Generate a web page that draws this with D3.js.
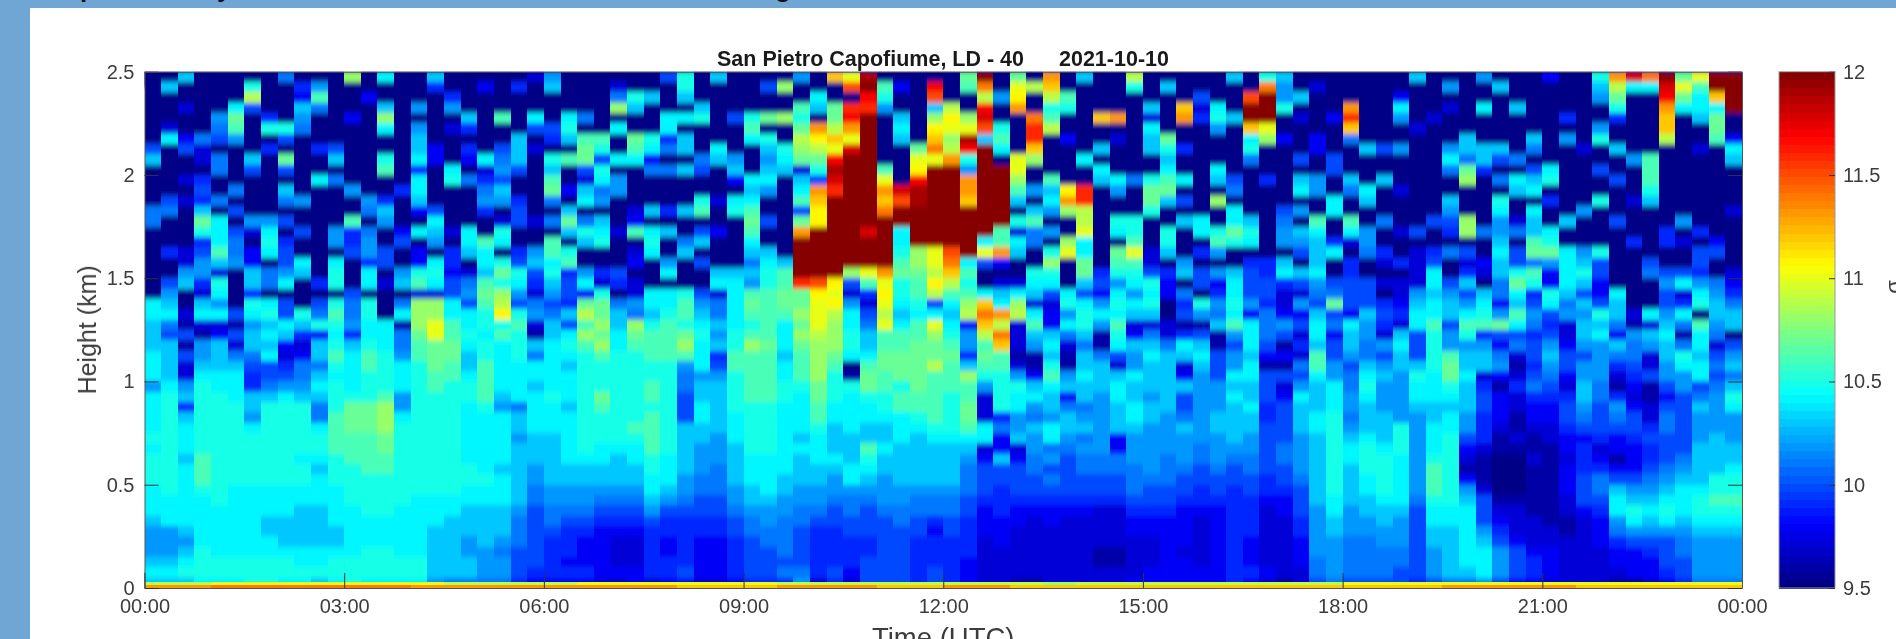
<!DOCTYPE html>
<html>
<head>
<meta charset="utf-8">
<script src="https://d3js.org/d3.v7.min.js"></script>
<style>
  html, body { margin: 0; padding: 0; background: #fff; overflow: hidden; }
  svg { display: block; }
  text { font-family: "Liberation Sans", Arial, sans-serif; }
</style>
</head>
<body>
<div id="chart"></div>
<script>
// Time of each column, hours UTC, 15 minute steps
const hours = [0,0.25,0.5,0.75,1,1.25,1.5,1.75,2,2.25,2.5,2.75,3,3.25,3.5,3.75,4,4.25,4.5,4.75,5,5.25,5.5,5.75,6,6.25,6.5,6.75,7,7.25,7.5,7.75,8,8.25,8.5,8.75,9,9.25,9.5,9.75,10,10.25,10.5,10.75,11,11.25,11.5,11.75,12,12.25,12.5,12.75,13,13.25,13.5,13.75,14,14.25,14.5,14.75,15,15.25,15.5,15.75,16,16.25,16.5,16.75,17,17.25,17.5,17.75,18,18.25,18.5,18.75,19,19.25,19.5,19.75,20,20.25,20.5,20.75,21,21.25,21.5,21.75,22,22.25,22.5,22.75,23,23.25,23.5,23.75];

const xTickHours = [0,3,6,9,12,15,18,21,24];
const xTickLabels = ["00:00","03:00","06:00","09:00","12:00","15:00","18:00","21:00","00:00"];
const yTicks = [0,0.5,1,1.5,2,2.5];
const colorTicks = [9.5,10,10.5,11,11.5,12];

// Values are signal x 10. One line per time column, from 2.5 km down to 1.3 km (0.05 km bins)
const upperProfiles = [
[95,95,95,95,95,95,95,100,103,95,95,95,95,101,101,95,95,95,95,95,95,95,104,104],
[95,103,95,95,95,97,104,95,95,95,95,95,100,101,95,95,95,99,95,95,100,102,103,104],
[103,95,95,97,95,95,98,100,95,95,97,95,97,95,95,95,95,97,97,102,103,95,95,97],
[95,95,95,95,95,95,101,97,97,95,99,100,99,103,107,105,99,100,102,102,99,97,103,104],
[95,95,95,95,102,101,100,95,101,101,95,95,101,95,104,104,104,106,103,97,105,104,102,104],
[95,95,95,104,107,106,102,95,95,95,95,101,95,100,95,100,101,101,102,95,95,95,95,100],
[95,105,109,100,95,95,95,95,103,100,95,95,95,95,102,97,95,98,98,103,103,99,105,104],
[95,95,95,95,99,105,95,99,95,95,95,95,95,95,102,104,105,104,95,101,101,95,104,105],
[101,95,95,95,95,105,100,95,107,100,95,103,101,95,100,95,99,100,100,102,104,95,100,100],
[95,99,98,103,102,101,95,95,95,95,95,95,102,95,95,100,95,95,104,103,95,95,95,105],
[95,102,106,101,95,95,95,99,95,95,104,95,95,95,95,95,95,95,95,95,99,95,100,101],
[95,95,95,95,95,95,95,100,103,95,101,95,95,95,95,102,102,95,104,105,105,95,105,106],
[108,95,95,95,98,95,95,95,95,95,95,102,95,95,106,99,99,100,95,95,95,100,101,101],
[95,95,98,95,95,95,95,95,95,95,95,95,102,101,95,101,102,102,99,104,104,95,105,105],
[104,95,95,103,108,104,95,95,105,106,95,95,99,103,102,95,95,100,100,95,97,95,95,95],
[95,95,95,95,95,95,95,95,95,95,95,99,95,95,95,98,100,95,95,102,103,95,101,104],
[95,95,95,102,95,102,103,103,104,99,104,104,103,98,95,104,95,98,98,105,106,97,108,108],
[103,99,95,95,95,95,95,98,98,95,95,95,95,100,104,103,102,95,104,105,104,97,108,108],
[95,95,99,102,95,97,95,95,95,104,105,95,95,95,95,97,95,99,99,98,100,100,104,104],
[95,95,95,95,103,99,95,99,98,95,101,95,95,95,95,104,104,103,95,97,101,102,100,104],
[95,98,95,95,95,95,95,95,104,97,99,101,102,99,95,95,106,104,104,103,106,107,106,105],
[95,95,95,95,106,95,95,100,101,102,100,103,102,95,97,105,104,95,105,107,105,108,109,111],
[95,99,95,95,95,95,103,103,103,100,95,95,99,100,100,95,95,99,100,105,104,102,100,105],
[97,95,95,95,104,100,95,97,95,95,95,95,95,95,97,95,95,102,103,100,99,97,101,102],
[102,103,95,95,95,100,99,95,105,103,106,107,101,95,101,95,106,106,104,105,103,102,100,101],
[95,95,95,95,104,105,103,95,106,95,95,98,95,103,107,103,95,105,106,99,100,100,99,103],
[95,95,95,95,101,95,106,107,107,100,97,103,104,95,101,105,103,95,95,102,104,98,107,109],
[95,95,95,95,95,95,106,105,100,105,104,101,102,95,103,104,105,95,95,99,97,105,107,107],
[95,97,101,108,95,104,95,95,104,95,102,102,95,95,95,97,95,95,95,100,99,95,101,103],
[95,95,105,103,95,95,107,106,104,95,95,95,95,97,98,106,95,97,98,95,97,97,102,101],
[95,95,103,95,95,95,105,104,98,101,95,95,95,103,95,104,105,104,95,95,95,104,104,103],
[100,95,95,95,104,104,99,101,95,101,95,95,95,99,95,103,95,95,102,104,95,104,104,105],
[105,105,103,95,104,95,103,103,95,103,95,95,95,103,95,95,101,103,95,95,95,105,106,106],
[95,95,95,103,105,95,95,95,101,100,95,95,105,106,95,100,103,95,100,95,95,100,102,103],
[103,95,95,95,95,95,95,104,103,95,95,95,97,95,95,98,95,95,95,103,104,97,101,101],
[95,95,95,95,100,95,95,95,102,103,98,95,104,105,95,95,95,95,95,103,104,104,104,104],
[95,95,95,95,105,106,104,95,95,95,104,103,104,106,107,106,104,103,101,103,102,106,107,106],
[95,100,95,95,107,95,105,103,102,103,104,102,95,95,100,95,95,103,104,105,105,106,106,106],
[95,108,95,95,108,95,95,105,104,103,95,95,95,95,95,95,95,95,103,106,106,107,107,106],
[102,95,95,106,105,107,109,108,107,97,103,104,106,100,107,113,120,120,120,120,116,107,107,108],
[95,95,104,103,95,113,111,109,107,105,100,113,112,111,111,120,120,120,120,120,115,111,110,110],
[112,95,95,107,107,109,112,110,117,119,118,116,120,120,120,120,120,120,120,120,111,110,111,109],
[110,115,95,116,117,113,110,118,120,120,120,120,120,120,120,120,120,120,120,108,100,97,102,104],
[119,120,117,116,120,120,120,120,120,120,120,120,120,120,120,118,120,120,120,110,106,99,97,100],
[95,106,105,102,95,95,95,95,95,106,110,113,112,114,120,120,120,120,120,113,110,111,110,109],
[95,98,95,95,103,104,103,95,95,95,95,118,115,120,120,104,104,105,106,107,105,105,104,103],
[95,95,95,95,95,95,95,107,110,111,117,119,119,120,120,120,120,108,108,107,106,106,105,104],
[95,117,115,103,108,111,112,114,110,120,120,120,120,120,120,120,120,110,110,109,111,109,100,104],
[95,95,95,109,111,110,108,109,113,120,120,120,120,120,120,120,120,115,114,112,109,106,104,103],
[107,106,95,95,108,110,119,117,105,102,113,113,112,120,120,120,120,120,104,106,105,106,108,109],
[120,114,109,117,118,115,103,120,120,120,120,120,120,120,120,120,104,110,100,95,95,104,112,114],
[95,95,102,95,95,105,106,104,95,120,120,120,120,120,120,106,106,113,98,95,97,103,104,113],
[107,110,111,113,95,95,95,95,110,110,108,106,103,95,105,97,104,103,95,95,97,104,108,109],
[95,109,95,95,114,116,116,112,108,95,95,102,95,103,106,101,101,95,95,105,104,103,97,104],
[113,112,109,105,106,109,95,95,95,95,106,103,104,102,95,102,95,105,108,105,104,100,97,98],
[95,95,106,105,95,95,98,95,95,95,95,111,113,108,95,95,108,110,95,95,95,104,105,102],
[103,95,95,95,95,95,95,95,104,95,95,116,116,109,109,110,104,104,107,107,103,100,104,105],
[95,95,95,95,112,95,95,103,95,104,103,95,95,95,95,95,95,95,95,99,100,98,102,104],
[95,95,95,95,113,95,97,95,95,95,104,102,95,95,105,104,95,107,106,105,102,104,105,104],
[109,105,95,95,95,95,95,95,95,95,101,95,95,95,105,105,106,110,106,105,104,102,104,103],
[95,95,95,103,97,104,103,103,95,95,105,107,107,105,95,95,95,97,97,100,105,104,105,103],
[95,103,95,95,95,95,107,105,103,104,106,107,103,95,95,105,105,103,95,99,98,98,95,95],
[95,95,95,112,113,95,95,99,95,95,104,95,100,95,103,95,95,95,102,103,95,101,99,100],
[95,95,100,97,99,95,95,95,95,95,95,95,95,95,104,104,95,99,95,100,100,95,105,102],
[95,95,95,104,105,102,95,95,95,104,103,95,108,95,95,105,106,102,95,102,98,99,102,101],
[103,95,95,95,103,95,95,95,95,95,100,101,95,104,104,107,105,95,95,103,104,104,105,104],
[95,95,115,120,120,112,104,105,101,95,95,95,95,95,103,105,104,95,99,100,100,100,102,98],
[105,114,120,120,120,110,108,95,95,95,99,95,95,95,95,95,95,95,99,99,100,100,99,101],
[103,102,102,105,95,95,98,95,95,95,95,95,95,100,101,102,102,95,103,104,99,97,97,98],
[95,95,103,95,97,95,95,95,100,95,103,104,95,102,95,103,102,100,95,103,100,97,102,98],
[95,97,95,95,95,95,98,98,95,95,102,102,95,95,106,104,103,103,103,104,102,101,100,103],
[95,95,95,95,98,95,95,95,100,100,95,95,104,104,95,95,99,104,95,95,100,101,107,100],
[95,95,95,113,116,112,101,95,95,95,103,101,95,95,106,104,97,95,99,99,100,100,100,98],
[95,95,95,95,95,95,95,103,95,95,95,104,103,95,95,102,102,101,95,95,100,100,100,103],
[95,95,95,95,95,95,95,100,95,95,103,95,95,95,101,95,95,99,97,95,97,95,99,100],
[95,95,98,104,102,95,95,102,95,95,95,97,95,95,95,97,95,95,99,95,97,97,98,99],
[103,95,95,95,95,97,95,95,95,95,95,95,95,95,95,100,95,97,97,97,97,102,103,104],
[95,95,95,95,97,95,95,95,95,95,95,95,95,95,100,95,95,99,100,104,104,103,104,104],
[95,102,95,97,95,95,95,102,104,101,95,95,103,102,100,99,95,101,95,95,100,102,103,103],
[95,95,95,95,95,95,103,103,101,107,108,95,95,95,108,108,95,100,97,99,103,100,102,104],
[102,95,95,104,95,95,95,103,103,99,95,95,95,95,95,101,95,95,98,97,95,103,104,105],
[95,103,95,95,95,95,95,103,100,95,101,95,105,104,102,102,103,104,103,103,101,101,98,102],
[95,95,95,103,95,95,95,95,101,95,104,103,95,95,97,101,95,100,100,105,107,104,103,106],
[95,95,95,95,95,95,103,101,95,100,103,104,95,104,103,103,106,107,101,106,105,99,100,102],
[98,95,95,95,95,95,95,95,95,104,105,95,99,95,95,104,105,107,102,98,98,105,104,100],
[95,95,95,95,99,95,102,95,95,95,95,95,95,95,103,95,95,104,104,104,104,103,101,102],
[95,95,95,95,95,95,95,97,95,95,95,95,95,102,95,95,95,102,103,105,103,100,103,102],
[105,103,102,95,95,102,105,95,95,100,95,95,105,95,95,95,95,105,100,100,98,98,100,105],
[113,109,107,105,99,95,95,103,95,95,100,95,95,95,100,95,95,95,95,95,95,104,103,103],
[118,104,95,95,95,95,95,95,102,95,95,95,97,95,95,95,99,95,95,95,95,95,95,97],
[114,104,95,95,95,95,95,95,106,106,106,105,103,95,95,95,95,95,100,101,95,95,95,104],
[120,118,117,113,112,112,109,95,95,95,95,95,95,95,95,99,99,95,95,100,102,100,100,102],
[107,110,107,104,95,95,95,95,95,95,95,95,95,95,102,95,97,95,95,100,104,97,99,104],
[110,106,104,104,103,95,95,97,95,95,95,95,95,95,95,99,95,100,100,99,102,104,105,95],
[120,120,112,104,107,107,106,95,95,95,95,95,95,95,95,95,98,100,95,95,101,102,103,103],
[120,120,120,120,95,95,98,104,103,95,95,95,95,97,95,95,95,95,95,97,98,99,101,103]
];

// Same columns, from 1.3 km down to the surface
const lowerProfiles = [
[103,103,103,104,104,104,102,104,104,104,104,105,104,105,105,105,104,104,104,103,102,102,102,103,104,103],
[101,100,103,103,103,103,104,105,105,105,105,105,105,105,105,105,105,104,104,104,102,102,102,103,104,103],
[96,100,96,100,97,97,102,103,99,103,104,104,104,103,104,104,104,104,104,104,103,102,103,104,105,103],
[97,96,102,102,103,104,105,105,105,105,105,105,105,106,106,106,105,104,104,104,104,104,105,105,105,104],
[97,98,103,103,103,104,104,105,105,105,105,105,105,105,105,105,105,105,104,104,104,104,104,105,105,104],
[96,100,97,101,103,104,104,104,105,105,105,105,105,105,105,105,104,104,104,104,104,104,104,105,105,104],
[102,103,103,101,100,99,99,103,103,102,104,105,105,105,105,105,104,104,104,104,104,104,104,105,105,105],
[103,104,103,104,100,100,101,103,105,105,105,105,105,105,105,105,104,104,104,103,103,104,104,105,105,105],
[104,103,98,97,99,100,102,104,105,105,105,105,105,105,105,105,104,104,104,103,103,103,104,105,105,104],
[103,99,97,98,101,101,102,103,105,105,105,105,105,104,105,105,104,104,103,103,103,103,104,104,105,104],
[105,98,103,103,101,103,104,103,101,101,104,105,105,104,103,104,104,104,103,103,103,103,104,104,105,103],
[105,104,105,106,105,104,105,105,105,106,106,106,106,105,105,105,104,104,104,104,103,103,104,105,105,104],
[102,99,103,104,104,104,104,105,107,107,107,106,106,106,105,105,105,105,104,104,104,104,104,105,105,105],
[104,104,105,106,106,105,105,105,107,107,107,106,106,106,106,105,105,105,105,104,104,104,105,105,105,104],
[104,104,104,105,105,105,105,106,108,108,108,107,107,106,106,105,105,105,105,104,104,104,105,105,105,104],
[96,101,101,102,104,104,104,102,102,104,105,105,105,105,105,105,105,105,104,104,104,104,104,105,105,104],
[108,107,106,106,105,105,105,105,105,105,105,105,105,105,105,105,105,104,104,104,104,104,104,105,105,104],
[110,110,107,107,107,106,106,105,105,105,105,105,105,105,105,105,105,104,104,104,103,103,103,103,103,102],
[106,106,107,107,106,106,105,105,105,105,105,105,105,105,105,105,105,104,104,103,103,103,103,103,103,101],
[104,105,104,103,103,104,105,105,104,104,104,104,104,104,105,105,104,104,103,103,103,102,102,103,103,101],
[105,104,105,105,106,106,106,106,105,104,104,104,104,104,104,105,104,104,103,103,103,103,102,102,102,101],
[105,106,104,104,104,104,104,103,102,104,104,104,104,104,103,104,104,104,103,103,103,102,101,102,102,101],
[106,105,105,105,104,104,104,104,101,103,103,102,103,103,103,103,103,103,102,101,101,101,100,100,100,99],
[97,96,103,101,104,104,103,104,104,104,104,103,103,103,102,102,101,101,100,100,100,100,100,100,99,98],
[103,103,104,104,104,104,104,105,104,104,104,103,103,103,103,103,102,102,101,101,100,99,99,99,99,98],
[100,104,105,104,103,104,104,104,103,104,104,104,104,104,103,103,102,102,101,100,99,99,99,98,99,98],
[106,108,106,105,105,105,105,105,105,105,105,105,105,104,103,103,102,102,101,100,99,98,98,98,99,98],
[108,107,108,106,105,105,105,107,106,105,105,105,104,104,103,103,102,101,100,99,98,98,98,98,98,97],
[103,104,104,105,105,105,105,105,105,105,105,105,104,103,103,103,102,101,100,99,98,97,97,97,98,97],
[108,107,106,105,105,105,105,105,105,105,106,105,104,104,103,103,102,101,100,99,98,97,97,97,98,98],
[105,106,106,106,105,105,106,106,105,106,106,106,106,105,105,104,104,103,102,100,99,99,99,99,99,97],
[106,106,106,106,105,105,105,105,105,105,105,105,105,104,104,104,103,102,100,99,99,98,98,99,99,98],
[105,107,108,106,102,101,101,100,100,100,103,103,103,103,103,102,102,101,100,99,99,99,99,99,100,98],
[104,105,104,104,104,102,103,103,104,104,103,103,102,102,102,101,101,100,100,99,99,98,98,98,98,97],
[103,102,103,99,100,102,103,103,103,103,103,102,102,102,101,101,101,100,100,99,99,98,98,98,98,97],
[104,105,105,106,106,105,105,105,105,104,104,104,103,103,103,103,102,102,101,100,100,99,99,99,99,98],
[105,106,108,106,106,106,106,106,105,105,105,105,105,104,104,104,103,103,102,101,101,100,100,100,100,99],
[106,106,107,106,106,106,106,106,105,105,105,105,105,104,104,104,104,103,102,102,101,101,100,100,100,99],
[104,104,104,103,104,104,105,105,104,104,104,104,104,104,104,103,103,102,102,101,101,101,101,100,101,99],
[107,108,107,106,106,106,105,104,104,104,104,103,104,103,103,103,102,102,101,101,100,100,100,100,101,102],
[110,109,108,108,108,108,107,107,106,106,105,104,104,104,103,103,102,102,101,100,99,99,99,99,99,97],
[108,108,108,107,106,105,105,105,104,104,103,103,103,104,103,102,102,101,100,100,99,99,99,99,100,99],
[104,105,105,104,95,96,105,104,104,104,104,103,103,103,104,104,102,101,101,100,100,99,99,99,98,97],
[101,103,103,104,106,107,107,105,104,104,103,103,106,105,104,103,102,101,100,100,100,99,99,100,100,100],
[110,106,106,107,107,106,106,105,105,104,103,103,104,103,103,102,102,102,101,100,100,100,100,100,100,100],
[104,106,106,107,107,107,105,106,106,104,104,104,103,103,103,103,102,102,101,101,100,100,100,100,100,100],
[106,106,107,107,107,107,107,106,106,105,104,103,103,103,103,103,102,101,101,100,100,99,99,99,99,99],
[110,108,107,107,109,106,106,106,106,106,105,104,103,103,103,103,102,101,101,99,98,99,99,99,100,100],
[104,105,106,107,106,106,106,105,105,105,105,104,103,103,103,103,102,101,101,100,100,99,99,99,99,99],
[98,102,102,99,103,108,106,106,107,107,106,104,103,102,101,101,101,100,100,99,99,99,99,98,98,98],
[112,109,106,107,106,105,102,97,97,97,104,104,97,98,100,100,100,99,98,98,98,97,97,97,97,97],
[109,114,112,106,106,105,105,105,105,99,101,98,98,103,100,100,99,99,99,98,98,98,97,97,97,97],
[97,97,97,96,97,102,105,104,104,102,102,103,97,98,100,100,100,99,98,98,97,97,97,97,97,96],
[106,103,102,96,96,98,103,104,102,101,103,102,102,101,101,100,100,99,98,97,97,97,97,97,97,96],
[98,103,104,103,105,106,104,103,103,102,104,104,101,102,100,101,100,99,98,98,97,97,97,97,97,97],
[104,101,97,96,96,102,103,98,101,103,103,102,101,100,100,100,100,99,98,97,97,97,97,97,97,97],
[105,103,101,103,103,104,103,103,101,102,103,101,102,101,101,100,100,99,98,97,97,97,97,97,97,97],
[102,96,96,101,103,103,103,102,102,102,102,102,102,101,101,100,100,99,97,97,97,97,96,96,97,97],
[106,105,104,100,97,103,104,104,103,103,103,98,98,101,101,100,100,99,97,97,97,97,96,96,97,97],
[97,98,103,102,102,104,103,103,104,104,103,102,102,102,101,101,101,100,99,98,98,97,97,97,97,98],
[97,101,103,104,103,103,103,102,103,103,102,102,102,102,102,101,100,100,99,98,98,97,97,97,98,98],
[97,97,101,103,103,103,103,103,103,102,102,102,102,101,101,101,100,100,99,98,98,98,98,98,98,98],
[96,99,104,103,97,98,103,100,100,101,103,102,102,102,101,100,100,99,98,98,98,98,97,98,98,98],
[96,100,103,104,103,102,102,102,102,102,102,102,101,101,100,100,99,99,98,97,97,97,97,97,98,98],
[103,96,96,100,100,100,102,102,102,103,103,102,102,102,101,100,100,99,98,98,98,98,98,98,98,98],
[106,102,100,102,102,104,103,104,103,103,103,103,102,101,100,100,99,99,99,99,99,99,99,99,99,99],
[104,104,104,103,104,104,103,103,104,103,103,102,102,101,101,100,100,99,99,99,99,98,98,98,99,98],
[101,101,100,98,96,100,100,100,99,99,100,100,100,100,100,99,99,98,97,97,97,97,97,97,98,97],
[102,100,96,98,96,100,97,98,100,100,100,100,101,101,100,100,99,98,98,97,97,97,97,97,97,96],
[100,97,99,97,101,100,102,104,103,103,103,102,102,102,102,101,100,100,100,99,99,98,98,98,97,97],
[104,104,103,106,106,104,103,103,103,104,104,103,103,103,103,103,103,103,102,102,102,102,102,101,101,100],
[101,98,100,100,102,102,104,104,104,105,105,105,105,105,105,105,105,104,104,103,103,102,102,102,102,101],
[104,103,103,102,100,101,101,102,102,101,102,103,104,104,103,103,103,103,102,102,102,101,101,101,101,100],
[102,102,101,101,103,104,105,104,103,103,103,104,105,105,105,104,104,103,103,102,102,101,101,101,101,100],
[99,97,102,100,102,103,102,102,102,103,103,103,104,105,105,105,105,104,103,103,102,102,101,101,101,100],
[97,103,104,103,103,102,102,102,102,102,105,105,105,104,104,104,104,104,103,102,102,102,101,101,100,100],
[104,100,100,100,103,105,104,104,103,102,102,102,102,102,102,102,102,101,100,100,100,100,100,100,100,99],
[106,105,105,105,105,104,104,104,103,103,104,104,104,105,106,106,106,105,104,104,103,103,102,102,102,100],
[100,102,102,106,107,107,105,104,103,104,104,105,105,105,105,105,105,105,104,104,103,103,103,103,103,101],
[106,105,102,103,103,104,103,103,103,102,102,100,98,97,96,98,102,103,104,104,104,104,104,104,103,101],
[106,99,102,103,103,97,99,100,100,99,99,99,97,96,96,96,97,100,100,100,102,103,104,104,104,102],
[107,100,98,101,102,98,96,98,98,98,97,96,96,95,95,95,95,96,97,98,99,100,102,102,102,100],
[104,100,101,97,96,97,99,97,97,96,96,97,96,95,95,95,95,96,97,97,97,98,100,100,100,98],
[101,99,100,100,99,100,101,99,98,98,97,96,96,97,96,96,96,96,96,97,97,97,98,99,99,98],
[99,100,102,103,102,101,100,99,98,98,97,97,96,96,96,96,96,96,96,96,97,97,98,98,98,97],
[97,97,98,100,100,98,97,99,100,100,99,98,98,97,98,98,98,97,97,96,96,97,97,97,97,97],
[103,103,102,100,102,102,103,103,102,101,100,98,99,99,99,100,100,100,98,97,97,97,97,97,97,97],
[103,104,102,102,102,102,101,101,100,100,100,99,97,98,99,101,101,100,99,98,98,98,97,97,97,97],
[101,98,103,101,99,97,96,99,102,101,100,98,98,96,98,100,103,104,104,102,101,99,98,98,97,96],
[96,102,101,101,100,99,98,97,98,100,100,99,98,98,98,100,102,103,105,104,102,100,98,98,98,96],
[97,103,102,97,97,100,96,96,97,97,99,100,99,99,100,101,102,103,104,103,102,100,99,98,98,97],
[103,104,103,103,102,102,100,98,100,101,101,100,100,100,101,102,103,104,105,104,102,100,100,100,99,98],
[101,96,101,105,104,102,102,100,100,100,100,100,100,101,102,103,104,104,104,103,102,101,101,100,100,99],
[106,104,104,103,104,104,100,101,103,102,102,102,103,103,103,103,104,105,105,104,103,102,102,102,102,101],
[102,101,97,100,101,100,101,102,102,102,102,103,103,103,103,105,105,106,105,104,103,102,102,102,102,101],
[103,95,100,102,103,101,103,105,104,102,102,102,103,103,104,105,105,106,105,104,103,102,102,102,102,101]
];

// The thin bright band at the ground, upper and lower half
const surfaceUpper = [109,109,109,109,110,110,110,110,110,110,110,110,110,110,110,110,110,110,109,109,109,109,109,109,109,109,110,110,110,110,110,110,110,110,110,110,110,110,109,109,109,109,109,109,109,109,109,109,109,109,109,109,109,109,108,108,109,109,109,109,109,109,109,109,109,109,109,109,109,109,109,109,110,110,110,110,110,110,110,110,110,110,110,110,110,110,110,110,110,110,110,110,110,110,110,110];
const surfaceLower = [113,113,113,113,114,114,114,114,114,114,114,114,114,114,114,114,113,113,113,113,113,113,113,113,113,113,113,113,113,113,113,113,112,112,112,112,112,112,113,113,113,113,113,113,112,112,112,112,113,113,113,113,112,112,112,112,112,112,112,112,112,112,112,112,112,112,112,112,112,112,112,112,112,112,112,112,112,112,113,113,113,113,113,113,113,113,112,112,112,112,112,112,112,112,112,112];

const titleLeft = "San Pietro Capofiume, LD - 40";
const titleRight = "2021-10-10";

const width = 1896;
const height = 639;
const plot = { left: 144.5, right: 1742, top: 71.7, bottom: 588 };
const barLeft = 1779;
const barRight = 1835;

const svg = d3.select("#chart").append("svg")
    .attr("width", width)
    .attr("height", height);

// Page background: the slide behind the picture is blue at the top and left
svg.append("rect").attr("width", width).attr("height", height).attr("fill", "#fff");
svg.append("rect").attr("width", width).attr("height", 8).attr("fill", "#70a6d4");
svg.append("rect").attr("width", 30).attr("height", height).attr("fill", "#70a6d4");

const defs = svg.append("defs");
// The bins are coarser than the real range gates, so soften them along the height only
defs.append("filter")
    .attr("id", "soften")
    .attr("filterUnits", "userSpaceOnUse")
    .attr("x", plot.left - 20).attr("y", plot.top - 20)
    .attr("width", plot.right - plot.left + 40).attr("height", plot.bottom - plot.top + 40)
    .append("feGaussianBlur")
    .attr("stdDeviation", "0.5 2.6");
defs.append("clipPath")
    .attr("id", "plotClip")
    .append("rect")
    .attr("x", plot.left).attr("y", plot.top)
    .attr("width", plot.right - plot.left).attr("height", plot.bottom - plot.top);

const x = d3.scaleLinear().domain([0, 24]).range([plot.left, plot.right]);
const y = d3.scaleLinear().domain([0, 2.5]).range([plot.bottom, plot.top]);

// MATLAB jet with 64 steps
function jet(t) {
    const c = v => Math.round(255 * Math.max(0, Math.min(1, v)));
    return d3.rgb(
        c(1.5 - Math.abs(4 * t - 3)),
        c(1.5 - Math.abs(4 * t - 2)),
        c(1.5 - Math.abs(4 * t - 1))
    ).formatHex();
}
const levels = d3.range(64).map(i => jet((i + 0.5) / 64));
const color = d3.scaleQuantize().domain([9.5, 12]).range(levels);

const blurred = svg.append("g").style("filter", "blur(0.6px)");
const heatClip = blurred.append("g").attr("clip-path", "url(#plotClip)");
const heat = heatClip.append("g").attr("filter", "url(#soften)").attr("shape-rendering", "crispEdges");

// backing so the softening has something to fade into at the box edges
heat.append("rect")
    .attr("x", plot.left - 15).attr("y", plot.top - 15)
    .attr("width", plot.right - plot.left + 30).attr("height", 30)
    .attr("fill", levels[0]);
heat.append("rect")
    .attr("x", plot.left - 15).attr("y", plot.bottom - 15)
    .attr("width", plot.right - plot.left + 30).attr("height", 30)
    .attr("fill", color(9.9));

const upperCells = [];
upperProfiles.forEach(function (column, i) {
    column.forEach(function (v, r) {
        upperCells.push({ t: hours[i], top: 2.5 - r * 0.05, value: v / 10 });
    });
});
const lowerCells = [];
lowerProfiles.forEach(function (column, i) {
    column.forEach(function (v, r) {
        lowerCells.push({ t: hours[i], top: 1.3 - r * 0.05, value: v / 10 });
    });
});

heat.selectAll("rect.cell")
    .data(upperCells.concat(lowerCells))
    .enter().append("rect")
    .attr("class", "cell")
    .attr("x", d => x(d.t))
    .attr("y", d => y(d.top))
    .attr("width", x(0.25) - x(0) + 0.5)
    .attr("height", y(0) - y(0.05) + 0.5)
    .attr("fill", d => color(d.value));

// Ground band, two thin strips, not softened
const surface = blurred.append("g").attr("shape-rendering", "crispEdges");
const surfaceRows = [
    { values: surfaceUpper, top: 0.03, bottom: 0.014 },
    { values: surfaceLower, top: 0.014, bottom: 0 }
];
surfaceRows.forEach(function (row) {
    surface.selectAll(null)
        .data(row.values)
        .enter().append("rect")
        .attr("x", (d, i) => x(hours[i]))
        .attr("y", y(row.top))
        .attr("width", x(0.25) - x(0) + 0.5)
        .attr("height", y(row.bottom) - y(row.top))
        .attr("fill", d => color(d / 10));
});

const axisColor = "#3c3c3c";

function styleAxis(g, fontSize) {
    g.selectAll("text").attr("fill", axisColor).style("font-size", fontSize + "px");
    g.selectAll("line").attr("stroke", "#333");
    g.select(".domain").attr("stroke", "#555");
}

// x axis, ticks pointing into the plot
const xAxis = d3.axisBottom(x)
    .tickValues(xTickHours)
    .tickFormat((d, i) => xTickLabels[i])
    .tickSizeInner(-15)
    .tickSizeOuter(0)
    .tickPadding(11);
blurred.append("g")
    .attr("transform", `translate(0,${plot.bottom})`)
    .call(xAxis)
    .call(g => styleAxis(g, 20));

// y axis left, labels are trimmed like the original (0.5, 1, 1.5 ...)
const yAxis = d3.axisLeft(y)
    .tickValues(yTicks)
    .tickFormat(d3.format("~g"))
    .tickSizeInner(-14)
    .tickSizeOuter(0)
    .tickPadding(10);
blurred.append("g")
    .attr("transform", `translate(${plot.left},0)`)
    .call(yAxis)
    .call(g => styleAxis(g, 20));

// right and top edges of the box
const yAxisRight = d3.axisRight(y).tickValues(yTicks).tickFormat("").tickSizeInner(-14).tickSizeOuter(0);
blurred.append("g")
    .attr("transform", `translate(${plot.right},0)`)
    .call(yAxisRight)
    .call(g => styleAxis(g, 20));
const xAxisTop = d3.axisTop(x).tickValues(xTickHours).tickFormat("").tickSize(0);
blurred.append("g")
    .attr("transform", `translate(0,${plot.top})`)
    .call(xAxisTop)
    .call(g => styleAxis(g, 20));

blurred.append("text")
    .attr("transform", `translate(96,${(plot.top + plot.bottom) / 2}) rotate(-90)`)
    .attr("text-anchor", "middle")
    .attr("fill", axisColor)
    .style("font-size", "25px")
    .text("Height (km)");

blurred.append("text")
    .attr("x", (plot.left + plot.right) / 2)
    .attr("y", 647)
    .attr("text-anchor", "middle")
    .attr("fill", axisColor)
    .style("font-size", "27.5px")
    .text("Time (UTC)");

blurred.append("text")
    .attr("x", 717)
    .attr("y", 66)
    .attr("fill", "#1a1a1a")
    .style("font-size", "21.5px")
    .style("font-weight", "bold")
    .text(titleLeft);
blurred.append("text")
    .attr("x", 1059)
    .attr("y", 66)
    .attr("fill", "#1a1a1a")
    .style("font-size", "21.5px")
    .style("font-weight", "bold")
    .text(titleRight);

// Colour bar, one band per level of the colour map
const barY = d3.scaleLinear().domain([9.5, 12]).range([plot.bottom, plot.top]);
const bandSize = 2.5 / levels.length;
const bar = blurred.append("g").attr("shape-rendering", "crispEdges");
bar.selectAll("rect")
    .data(levels)
    .enter().append("rect")
    .attr("x", barLeft)
    .attr("y", (d, i) => barY(9.5 + (i + 1) * bandSize))
    .attr("width", barRight - barLeft)
    .attr("height", barY(9.5) - barY(9.5 + bandSize) + 0.5)
    .attr("fill", d => d);
blurred.append("rect")
    .attr("x", barLeft)
    .attr("y", plot.top)
    .attr("width", barRight - barLeft)
    .attr("height", plot.bottom - plot.top)
    .attr("fill", "none")
    .attr("stroke", "#999");

const barAxis = d3.axisRight(barY)
    .tickValues(colorTicks)
    .tickFormat(d3.format("~g"))
    .tickSizeInner(-6)
    .tickSizeOuter(0)
    .tickPadding(8);
blurred.append("g")
    .attr("transform", `translate(${barRight},0)`)
    .call(barAxis)
    .call(g => {
        styleAxis(g, 20);
        g.select(".domain").remove();
    });

// Colour bar title, runs off the right side of the page
blurred.append("text")
    .attr("transform", "translate(1901,287) rotate(-90)")
    .attr("text-anchor", "middle")
    .attr("fill", axisColor)
    .style("font-size", "22px")
    .text("σ");

// Bottoms of the slide heading that is cut off at the top of the page
[["p", 80], ["y", 217], ["g", 775]].forEach(function (d) {
    svg.append("text")
        .attr("x", d[1])
        .attr("y", -3)
        .attr("fill", "#111")
        .style("font-size", "26px")
        .style("font-weight", "bold")
        .text(d[0]);
});
</script>
</body>
</html>
